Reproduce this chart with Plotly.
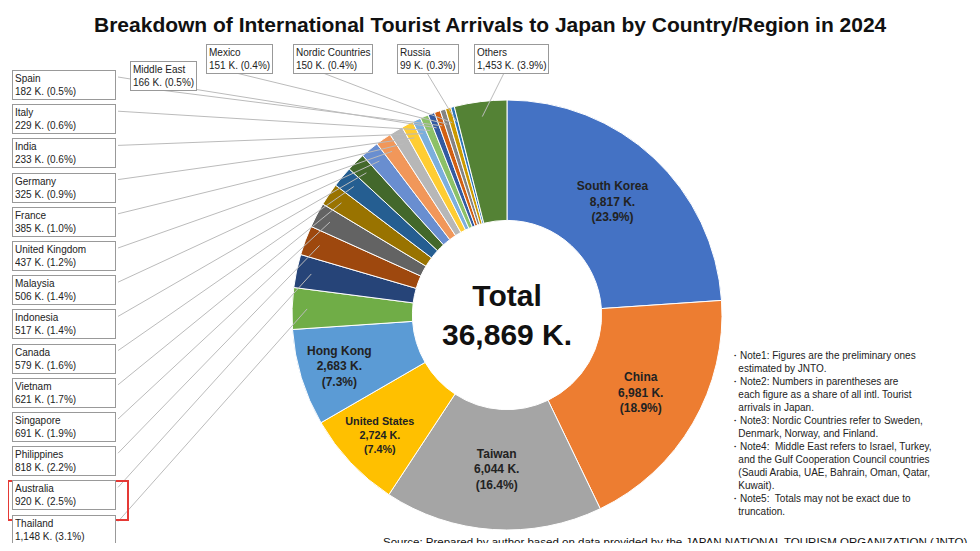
import math
import plotly.graph_objects as go

# Data (thousands of arrivals), clockwise from 12 o'clock
countries = ["South Korea", "China", "Taiwan", "United States", "Hong Kong", "Thailand",
             "Australia", "Philippines", "Singapore", "Vietnam", "Canada", "Indonesia",
             "Malaysia", "United Kingdom", "France", "Germany", "India", "Italy", "Spain",
             "Middle East", "Mexico", "Nordic Countries", "Russia", "Others"]
arrivals = [8817, 6981, 6044, 2724, 2683, 1148, 920, 818, 691, 621, 579, 517,
            506, 437, 385, 325, 233, 229, 182, 166, 151, 150, 99, 1453]
shares = ["23.9%", "18.9%", "16.4%", "7.4%", "7.3%", "3.1%", "2.5%", "2.2%", "1.9%", "1.7%",
          "1.6%", "1.4%", "1.4%", "1.2%", "1.0%", "0.9%", "0.6%", "0.6%", "0.5%", "0.5%",
          "0.4%", "0.4%", "0.3%", "3.9%"]
total_reported = 36869
colors = ["#4472C4", "#ED7D31", "#A5A5A5", "#FFC000", "#5B9BD5", "#70AD47", "#264478",
          "#9E480E", "#636363", "#997300", "#255E91", "#43682B", "#698ED0", "#F1975A",
          "#B7B7B7", "#FFCD33", "#7CAFDD", "#8CC168", "#335AA1", "#D26012", "#848484",
          "#CC9A00", "#2E75B6", "#548235"]
inside = ["South Korea", "China", "Taiwan", "United States", "Hong Kong"]
left_boxes = ["Spain", "Italy", "India", "Germany", "France", "United Kingdom", "Malaysia",
              "Indonesia", "Canada", "Vietnam", "Singapore", "Philippines", "Australia", "Thailand"]
top_boxes = {"Middle East": (130, 76), "Mexico": (206, 59), "Nordic Countries": (293, 59),
             "Russia": (397, 59), "Others": (474, 59)}

# page has an 8px body margin, so the figure is drawn smaller and offset
OFF = 8
W, H = 980 - 2 * OFF, 551 - 2 * OFF
CX, CY, R = 507, 315, 215


def px(x):
    return (x - OFF) / W


def py(y):
    return 1 - (y - OFF) / H


def fmt(v):
    return f"{v:,} K."


texts = [f"<b>{c}<br>{fmt(v)}<br>({s})</b>" if c in inside else ""
         for c, v, s in zip(countries, arrivals, shares)]
positions = ["inside" if c in inside else "none" for c in countries]

fig = go.Figure(go.Pie(
    labels=countries, values=arrivals, text=texts, textinfo="text",
    textposition=positions,
    sort=False, direction="clockwise", hole=0.44,
    marker=dict(colors=colors, line=dict(color="white", width=1)),
    textfont=dict(size=12, color="#222", family="Liberation Sans"),
    insidetextorientation="horizontal", showlegend=False, hoverinfo="label+value",
    domain=dict(x=[px(CX - R), px(CX + R)], y=[py(CY + R), py(CY - R)]),
))

# slice mid-angles for leader lines
total = sum(arrivals)
mid = {}
cum = 0
for c, v in zip(countries, arrivals):
    mid[c] = (cum + v / 2) / total * 2 * math.pi
    cum += v


def edge(c, r=0.93):
    a = mid[c]
    return CX + R * r * math.sin(a), CY - R * r * math.cos(a)


ann = []
shapes = []
lookup = {c: (v, s) for c, v, s in zip(countries, arrivals, shares)}
for i, c in enumerate(left_boxes):
    v, s = lookup[c]
    yc = 85 + i * 34.2
    ann.append(dict(x=px(12), y=py(yc), xref="paper", yref="paper", xanchor="left",
                    yanchor="middle", align="left", showarrow=False,
                    text=f"{c}<br>{fmt(v)} ({s})", width=98, bordercolor="#999",
                    borderwidth=1, borderpad=2, bgcolor="white",
                    font=dict(size=10, color="#222")))
    ex, ey = edge(c)
    shapes.append(dict(type="line", xref="paper", yref="paper", x0=px(118), y0=py(yc - 8),
                       x1=px(ex), y1=py(ey), line=dict(color="#bbbbbb", width=1)))
for c, (bx, by) in top_boxes.items():
    v, s = lookup[c]
    ann.append(dict(x=px(bx), y=py(by), xref="paper", yref="paper", xanchor="left",
                    yanchor="middle", align="left", showarrow=False,
                    text=f"{c}<br>{fmt(v)} ({s})", bordercolor="#999", borderwidth=1,
                    borderpad=2, bgcolor="white", font=dict(size=10, color="#222")))
    ex, ey = edge(c)
    shapes.append(dict(type="line", xref="paper", yref="paper", x0=px(bx + 30),
                       y0=py(by + 14), x1=px(ex), y1=py(ey),
                       line=dict(color="#bbbbbb", width=1)))

# highlight box around Australia
shapes.append(dict(type="rect", xref="paper", yref="paper", x0=px(8), x1=px(128),
                   y0=py(520), y1=py(481), line=dict(color="#e53935", width=2)))

ann.append(dict(x=px(CX), y=py(CY), xref="paper", yref="paper", showarrow=False,
                yanchor="middle", text=f"<b>Total<br>{total_reported:,} K.</b>",
                font=dict(size=30, color="#111")))
ann.append(dict(x=px(490), y=py(24), xref="paper", yref="paper", showarrow=False,
                yanchor="middle",
                text="<b>Breakdown of International Tourist Arrivals to Japan by Country/Region in 2024</b>",
                font=dict(size=21, color="#111")))
notes = ("・Note1: Figures are the preliminary ones<br>   estimated by JNTO.<br>"
         "・Note2: Numbers in parentheses are<br>   each figure as a share of all intl. Tourist<br>   arrivals in Japan.<br>"
         "・Note3: Nordic Countries refer to Sweden,<br>   Denmark, Norway, and Finland.<br>"
         "・Note4:  Middle East refers to Israel, Turkey,<br>   and the Gulf Cooperation Council countries<br>"
         "   (Saudi Arabia, UAE, Bahrain, Oman, Qatar,<br>   Kuwait).<br>"
         "・Note5:  Totals may not be exact due to<br>   truncation.")
ann.append(dict(x=px(728), y=py(348), xref="paper", yref="paper", xanchor="left",
                yanchor="top", align="left", showarrow=False, text=notes,
                font=dict(size=10, color="#222")))
ann.append(dict(x=px(970), y=py(542), xref="paper", yref="paper", xanchor="right",
                yanchor="middle", showarrow=False,
                text="Source: Prepared by author based on data provided by the JAPAN NATIONAL TOURISM ORGANIZATION (JNTO)",
                font=dict(size=11.5, color="#111")))

fig.update_layout(width=W, height=H, margin=dict(l=0, r=0, t=0, b=0),
                  paper_bgcolor="white", annotations=ann, shapes=shapes,
                  font=dict(family="Liberation Sans"))
fig.write_html("out.html")
